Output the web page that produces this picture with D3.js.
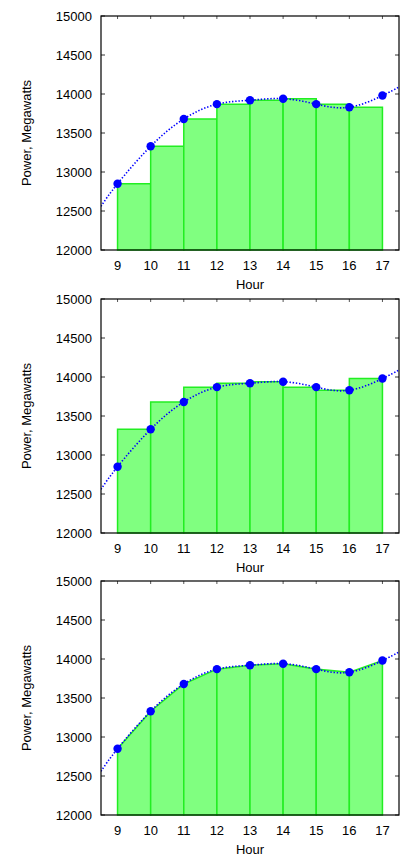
<!DOCTYPE html>
<html>
<head>
<meta charset="utf-8">
<script src="https://cdn.jsdelivr.net/npm/d3@7"></script>
<style>
  body { margin: 0; background: #fff; }
  text { font-family: "Liberation Sans", Arial, sans-serif; font-size: 13px; fill: #000; }
</style>
</head>
<body>
<svg id="chart" width="402" height="857"></svg>
<script>
// measured values
const hours = [9, 10, 11, 12, 13, 14, 15, 16, 17];
const power = [12850, 13330, 13680, 13870, 13920, 13940, 13870, 13830, 13980];
// where the fitted curve meets the plot edges
const edgeHours = [8.5, 17.5];
const edgePower = [12560, 14090];
const yTicks = [12000, 12500, 13000, 13500, 14000, 14500, 15000];
const xTicks = hours;
const panelKinds = ["left", "right", "trapezoid"];
const panelTops = [16, 299, 581];

const plotLeft = 101, plotRight = 399, plotHeight = 234;
const fillColor = "#80ff80", edgeColor = "#22ee22", dotColor = "#0000ff";

const svg = d3.select("#chart");
svg.append("rect").attr("width", 402).attr("height", 857).attr("fill", "#fff");

const x = d3.scaleLinear().domain([8.5, 17.5]).range([plotLeft, plotRight]);

const pts = hours.map((h, i) => ({h: h, v: power[i]}));
const curvePts = [{h: edgeHours[0], v: edgePower[0]}].concat(pts, [{h: edgeHours[1], v: edgePower[1]}]);

panelKinds.forEach((kind, p) => {
  const top = panelTops[p];
  const y = d3.scaleLinear().domain([12000, 15000]).range([top + plotHeight, top]);
  const g = svg.append("g");

  g.append("clipPath").attr("id", "clip" + p)
    .append("rect")
    .attr("x", plotLeft).attr("y", top)
    .attr("width", plotRight - plotLeft).attr("height", plotHeight);

  // y ticks, left and mirrored right
  yTicks.forEach(t => {
    g.append("line").attr("x1", plotLeft).attr("x2", plotLeft + 4)
      .attr("y1", y(t)).attr("y2", y(t)).attr("stroke", "#333");
    g.append("line").attr("x1", plotRight - 4).attr("x2", plotRight)
      .attr("y1", y(t)).attr("y2", y(t)).attr("stroke", "#333");
    g.append("text").attr("x", 92).attr("y", y(t)).attr("dy", "0.36em")
      .attr("text-anchor", "end").text(t);
  });
  // x ticks, bottom and mirrored top
  xTicks.forEach(t => {
    g.append("line").attr("x1", x(t)).attr("x2", x(t))
      .attr("y1", top).attr("y2", top + 3).attr("stroke", "#555");
    g.append("line").attr("x1", x(t)).attr("x2", x(t))
      .attr("y1", top + plotHeight).attr("y2", top + plotHeight - 3).attr("stroke", "#555");
    g.append("text").attr("x", x(t)).attr("y", top + plotHeight + 20)
      .attr("text-anchor", "middle").text(t);
  });

  // bars
  const segs = d3.range(hours.length - 1);
  const shape = i => {
    const a = pts[i], b = pts[i + 1];
    let va, vb;
    if (kind === "left") { va = a.v; vb = a.v; }
    else if (kind === "right") { va = b.v; vb = b.v; }
    else { va = a.v; vb = b.v; }
    return [[x(a.h), y(12000)], [x(a.h), y(va)], [x(b.h), y(vb)], [x(b.h), y(12000)]];
  };
  g.selectAll(".bar").data(segs).join("path")
    .attr("class", "bar")
    .attr("d", i => d3.line()(shape(i)) + "Z")
    .attr("fill", fillColor)
    .attr("stroke", edgeColor)
    .attr("stroke-width", 1.5);

  // dotted fitted curve
  g.append("path")
    .attr("clip-path", "url(#clip" + p + ")")
    .attr("d", d3.line().x(d => x(d.h)).y(d => y(d.v)).curve(d3.curveNatural)(curvePts))
    .attr("fill", "none")
    .attr("stroke", dotColor)
    .attr("stroke-width", 1.6)
    .attr("stroke-dasharray", "1.4 1.8");

  // points
  g.selectAll(".pt").data(pts).join("circle")
    .attr("class", "pt")
    .attr("cx", d => x(d.h)).attr("cy", d => y(d.v))
    .attr("r", 4.2)
    .attr("fill", dotColor);

  // frame
  g.append("rect")
    .attr("x", plotLeft).attr("y", top)
    .attr("width", plotRight - plotLeft).attr("height", plotHeight)
    .attr("fill", "none").attr("stroke", "#000").attr("stroke-width", 1.2);

  g.append("text").attr("x", (plotLeft + plotRight) / 2).attr("y", top + plotHeight + 39)
    .attr("text-anchor", "middle").text("Hour");
  g.append("text")
    .attr("transform", `translate(31,${top + plotHeight / 2}) rotate(-90)`)
    .attr("text-anchor", "middle").text("Power, Megawatts");
});
</script>
</body>
</html>
